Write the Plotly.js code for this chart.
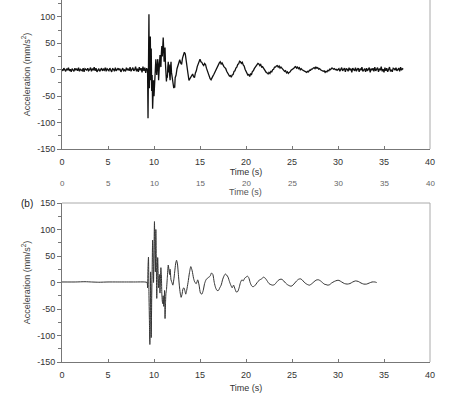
<!DOCTYPE html>
<html><head><meta charset="utf-8">
<script src="https://cdn.plot.ly/plotly-3.0.1.min.js"></script>
<style>html,body{margin:0;padding:0;background:#fff;}#chart{width:462px;height:398px;}</style>
</head><body><div id="chart"></div>
<script>
// ---------- (a) recorded acceleration ----------
// quiet pre-event record, sampled every 0.1 s from 0.0 s
const quietA_start = 0.0, quietA_step = 0.1;
const quietA = [1,-2,3,0,-3,2,-1,4,-2,1,
  -4,2,0,-3,3,-1,2,-2,4,-3,
  1,0,-2,3,-4,2,1,-1,3,-2,
  0,4,-3,2,-1,5,-2,3,-4,1,
  2,-3,0,3,-2,1,-1,4,-3,2,
  0,-2,3,-1,-4,2,1,-3,4,-2,
  0,3,-1,2,-4,1,3,-2,0,-3,
  4,-1,2,-2,5,-3,1,4,-2,0,
  6,-3,2,-4,5,-1,3,-5,6,-2,
  4,-6,3,-1];
// strong-motion part (irregular sampling)
const eventA_t = [9.35,9.40,9.45,9.50,9.55,9.60,9.65,9.70,9.75,9.80,9.85,9.90,9.95,10.00,10.05,10.10,10.15,10.20,10.25,10.30,10.35,10.40,10.45,10.50,10.55,10.60,10.65,10.70,10.75,10.80,10.85,10.90,10.95,11.00,11.05,11.10,11.15,11.20,11.25,11.30,11.35,11.40,11.45,11.50,11.55,11.60,11.65,11.70,11.75,11.80,11.85,11.90,11.95,12.05,12.15,12.20,12.25,12.30];
const eventA_v = [-92,20,105,-35,10,63,-20,40,-40,-10,-74,-30,-20,-50,-25,-5,10,20,0,-10,5,20,12,-20,-5,15,28,10,5,30,45,25,50,61,40,15,35,42,10,-5,-22,-10,-15,5,15,-5,10,-10,-20,5,15,-5,-10,-20,-35,-30,-34,-15];
// decaying oscillation, sampled every 0.1 s from 12.4 s to 30.0 s
const decayA_start = 12.4, decayA_step = 0.1;
const decayA = [-10,2,8,16,19,13,10,22,28,33,
  30,20,8,-8,-20,-17,-14,-9,-8,-13,
  -15,-6,-2,6,12,17,20,15,14,10,
  8,12,10,3,-2,-10,-15,-17,-19,-14,
  -12,-9,-5,-1,2,6,8,13,15,11,
  13,8,6,4,2,-3,-6,-10,-12,-11,
  -14,-10,-9,-3,-2,3,5,10,11,16,
  15,12,14,9,7,1,-3,-6,-10,-9,
  -13,-8,-9,-3,-2,2,4,8,9,12,
  11,8,10,5,6,3,0,-4,-5,-6,
  -8,-5,-7,-3,-4,0,1,5,5,7,
  8,5,7,3,5,3,1,-1,-3,-2,
  -6,-4,-7,-5,-4,-1,0,2,3,5,
  6,3,5,2,4,0,2,0,-1,-3,
  -3,-5,-5,-3,-4,-1,-1,1,1,3,
  4,2,5,3,4,1,2,0,-1,-2,
  -3,-2,-5,-3,-4,-1,-2,1,0,3,
  3,1,2,0,1,-1,0];
// post-event noise, sampled every 0.1 s from 30.1 s
const tailA_start = 30.1, tailA_step = 0.1;
const tailA = [2,-3,1,4,-2,0,3,-4,2,1,
  -3,4,-1,2,-5,3,0,-2,4,-3,
  1,3,-4,2,-1,5,-3,0,2,-4,
  3,-2,1,4,-5,2,-1,3,-3,5,
  -2,0,4,-4,2,-1,6,-3,1,-5,
  4,-2,3,-4,1,5,-3,0,-4,3,
  2,-1,4,-2,0,3,-3,5,-1,2,
  1];

// ---------- (b) simulated acceleration ----------
const timeB = [0,1.5,2.5,3.2,4.0,5.0,6.0,7.0,8.0,9.0,9.25,9.30,9.35,9.40,9.45,9.50,9.55,9.60,9.63,9.67,9.70,9.75,9.80,9.85,9.90,9.95,10.00,10.05,10.10,10.15,10.20,10.25,10.30,10.35,10.40,10.45,10.50,10.55,10.60,10.65,10.70,10.75,10.80,10.85,10.90,10.95,11.00,11.05,11.10,11.15,11.20,11.25,11.30,11.35,11.45,11.55,11.65,11.70,11.75,11.85,11.95,12.05,12.15,12.25,12.35,12.45,12.55,12.65,12.75,12.85,12.95,13.05,13.15,13.25,13.35,13.45,13.55,13.70,13.85,14.00,14.15,14.30,14.45,14.60,14.75,14.90,15.05,15.20,15.35,15.50,15.65,15.80,15.95,16.10,16.25,16.40,16.55,16.70,16.85,17.00,17.15,17.30,17.45,17.60,17.75,17.90,18.05,18.20,18.35,18.50,18.65,18.80,18.95,19.10,19.25,19.40,19.55,19.70,19.85,20.00,20.15,20.30,20.45,20.60,20.75,20.90,21.10,21.30,21.50,21.70,21.90,22.10,22.30,22.50,22.70,22.90,23.10,23.30,23.50,23.70,23.90,24.10,24.30,24.50,24.70,24.90,25.10,25.30,25.50,25.70,25.90,26.10,26.30,26.50,26.70,26.90,27.10,27.30,27.50,27.70,27.90,28.10,28.30,28.50,28.70,28.90,29.10,29.30,29.60,29.90,30.10,30.40,30.70,31.00,31.30,31.60,31.90,32.20,32.50,32.80,33.10,33.40,33.70,34.00,34.20];
const accB = [1,1,1.5,1,0.5,1,1,1,1,1,0,-10,30,48,-20,-70,-117,-60,20,-20,-104,-30,25,80,40,0,60,115,60,20,100,40,-30,10,47,20,-10,5,15,-20,5,28,15,-20,-35,-40,-25,-45,-40,-15,-68,-40,-20,-15,10,33,20,15,25,5,0,-5,5,20,35,42,35,15,-5,-20,-28,-22,-12,-10,-15,-22,-15,0,18,30,22,8,0,-2,5,-5,-20,-22,-15,-2,5,8,10,12,18,15,0,-10,-15,-15,-10,-5,5,12,16,14,10,2,-5,-10,-5,-12,-18,-17,-10,0,5,3,8,10,12,9,0,-6,-8,-7,-3,2,5,7,10,8,3,-2,-4,-5,-4,0,4,6,6,3,-1,-4,-6,-7,-5,-1,3,6,7,5,1,-2,-4,-5,-3,0,3,5,5,3,0,-3,-4,-5,-4,-1,2,4,4,1,-2,-3,-2,1,3,2,-1,-3,-3,-1,1,1,0];

// assemble trace (a) from its segments
const timeA = [], accA = [];
quietA.forEach((v,i)=>{timeA.push(+(quietA_start+i*quietA_step).toFixed(2)); accA.push(v);});
eventA_t.forEach((t,i)=>{timeA.push(t); accA.push(eventA_v[i]);});
decayA.forEach((v,i)=>{timeA.push(+(decayA_start+i*decayA_step).toFixed(2)); accA.push(v);});
tailA.forEach((v,i)=>{timeA.push(+(tailA_start+i*tailA_step).toFixed(2)); accA.push(v);});

const xTicks = [0,5,10,15,20,25,30,35,40];
const yTicks = [-150,-100,-50,0,50,100,150];

const FONT = "Liberation Sans, Arial, sans-serif";
const H = 398, W = 462;
const fy = px => 1 - px/H;   // pixel row -> paper fraction
const fx = px => px/W;

function xaxisDef(anchor, standoff){
  return {domain:[fx(62),fx(430)], range:[0,40], tickvals:xTicks, ticktext:xTicks.map(String),
    ticks:'inside', ticklen:3, tickcolor:'#777', showline:true, linecolor:'#777', linewidth:1,
    ticklabelstandoff:4,
    zeroline:false, showgrid:false, anchor:anchor, tickfont:{family:FONT,size:9,color:'#333'},
    title:{text:'Time (s)', font:{family:FONT,size:9,color:'#333'}, standoff:standoff}};
}
function yaxisDef(anchor, dom, rng){
  return {domain:dom, range:rng, tickvals:yTicks, ticktext:yTicks.map(String),
    ticks:'outside', ticklen:4, tickcolor:'#777', showline:true, linecolor:'#777', linewidth:1,
    minor:{dtick:25, ticks:'outside', ticklen:3, tickcolor:'#777', tick0:0},
    zeroline:false, showgrid:false, anchor:anchor, tickfont:{family:FONT,size:9,color:'#333'},
    title:{text:'Acceleration (mm/s<sup>2</sup>)', font:{family:FONT,size:9,color:'#444'}, standoff:5}};
}

const traces = [
  {x:timeA, y:accA, type:'scatter', mode:'lines', line:{color:'#111', width:1.3}, xaxis:'x', yaxis:'y', hoverinfo:'skip'},
  {x:timeB, y:accB, type:'scatter', mode:'lines', line:{color:'#333', width:1, shape:'spline', smoothing:0.6}, xaxis:'x2', yaxis:'y2', hoverinfo:'skip'}
];

const ghostAnn = xTicks.map(v=>({xref:'x', yref:'paper', x:v, y:fy(183.5), text:String(v), showarrow:false,
  font:{family:FONT,size:8,color:'#666'}, xanchor:'center', yanchor:'middle'}));

const layout = {
  width:W, height:H, margin:{l:0,r:0,t:0,b:0}, paper_bgcolor:'#fff', plot_bgcolor:'#fff', showlegend:false,
  xaxis: xaxisDef('y', 2),
  yaxis: yaxisDef('x', [fy(149), 1], [-150,132]),
  xaxis2: xaxisDef('y2', 5),
  yaxis2: yaxisDef('x2', [fy(362), fy(203)], [-150,150]),
  shapes:[
    {type:'line', xref:'x domain', yref:'y domain', x0:1, x1:1, y0:0, y1:1, line:{color:'#aaa', width:1}},
    {type:'line', xref:'x2 domain', yref:'y2 domain', x0:1, x1:1, y0:0, y1:1, line:{color:'#aaa', width:1}},
    {type:'line', xref:'x2 domain', yref:'y2 domain', x0:0, x1:1, y0:1, y1:1, line:{color:'#aaa', width:1}}
  ],
  annotations: ghostAnn.concat([
    {xref:'paper', yref:'paper', x:fx(246), y:fy(192), text:'Time (s)', showarrow:false,
      font:{family:FONT,size:9,color:'#555'}, xanchor:'center', yanchor:'middle'},
    {xref:'paper', yref:'paper', x:fx(27), y:fy(203), text:'(b)', showarrow:false,
      font:{family:FONT,size:10,color:'#222'}, xanchor:'center', yanchor:'middle'}
  ])
};

Plotly.newPlot('chart', traces, layout, {staticPlot:true, displayModeBar:false});
</script>
</body></html>
